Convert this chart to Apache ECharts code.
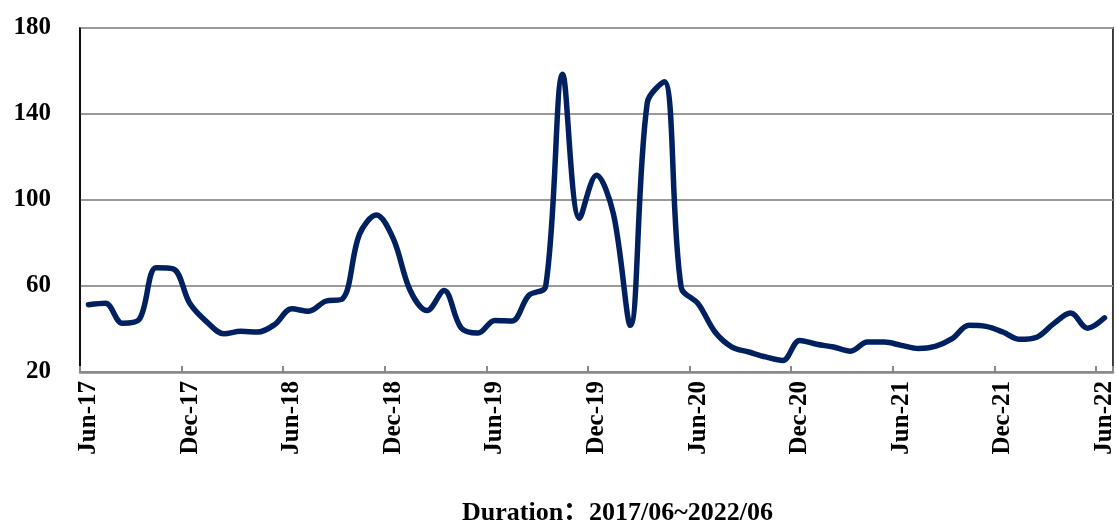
<!DOCTYPE html>
<html>
<head>
<meta charset="utf-8">
<script src="https://cdn.jsdelivr.net/npm/echarts@6/dist/echarts.min.js"></script>
<style>
  html, body { margin: 0; padding: 0; background: #fff; }
  #main { width: 1117px; height: 524px; }
</style>
</head>
<body>
<div id="main"></div>
<script>
// monthly categories Jun-17 .. Jun-22
var monthNames = ['Jan','Feb','Mar','Apr','May','Jun','Jul','Aug','Sep','Oct','Nov','Dec'];
var months = [];
for (var y = 17; y <= 22; y++) {
	for (var m = 0; m < 12; m++) {
		if ((y === 17 && m < 5) || (y === 22 && m > 5)) continue;
		months.push(monthNames[m] + '-' + y);
	}
}

// values
var values = [
	51.3, 52.0, 42.7, 44.5, 68.5, 68.0, 51.7, 43.2, 37.8, 38.9, 38.6, 42.1,
	49.4, 48.3, 52.9, 54.0, 84.0, 93.0, 82.0, 57.9, 48.6, 57.9, 40.6, 38.1,
	44.0, 43.7, 55.6, 59.8, 158.5, 91.5, 111.5, 93.5, 41.7, 145.3, 155.0, 59.4,
	51.8, 38.6, 31.6, 29.3, 27.0, 25.4, 34.7, 32.9, 31.6, 29.7, 33.9, 33.9,
	32.4, 30.9, 31.9, 35.5, 41.7, 41.2, 38.6, 35.2, 36.2, 42.5, 47.4, 40.4,
	45.2
];

var yTicks = [20, 60, 100, 140, 180];
var titleText = 'Duration：2017/06~2022/06';

var font = '"Times New Roman", "Liberation Serif", "Noto Sans CJK SC", serif';

var myChart = echarts.init(document.getElementById('main'));

var option = {
	backgroundColor: '#fff',
	animation: false,
	title: {
		text: titleText,
		left: 457,
		top: 495,
		textStyle: {
			fontFamily: font,
			fontWeight: 'bold',
			fontSize: 26,
			color: '#000'
		}
	},
	grid: {
		left: 80,
		right: 4,
		top: 28,
		bottom: 152,
		show: true,
		borderColor: '#000',
		borderWidth: 1.5
	},
	xAxis: {
		type: 'category',
		boundaryGap: true,
		data: months,
		axisLine: {
			lineStyle: { color: '#888', width: 2.5 }
		},
		axisTick: {
			show: true,
			inside: true,
			length: 6,
			interval: 5,
			lineStyle: { color: '#888', width: 2 }
		},
		axisLabel: {
			interval: 5,
			rotate: 90,
			margin: 9,
			color: '#000',
			fontFamily: font,
			fontWeight: 'bold',
			fontSize: 25
		},
		splitLine: { show: false }
	},
	yAxis: {
		type: 'value',
		min: yTicks[0],
		max: yTicks[yTicks.length - 1],
		interval: 40,
		axisLine: {
			show: true,
			lineStyle: { color: '#000', width: 1.5 }
		},
		axisTick: { show: false },
		axisLabel: {
			margin: 29,
			color: '#000',
			fontFamily: font,
			fontWeight: 'bold',
			fontSize: 25
		},
		splitLine: {
			show: true,
			lineStyle: { color: '#999', width: 2 }
		}
	},
	series: [{
		name: 'value',
		type: 'line',
		data: values,
		smooth: 0.35,
		symbol: 'none',
		lineStyle: {
			color: '#002060',
			width: 5.5,
			cap: 'round',
			join: 'round'
		}
	}]
};

myChart.setOption(option);
</script>
</body>
</html>
